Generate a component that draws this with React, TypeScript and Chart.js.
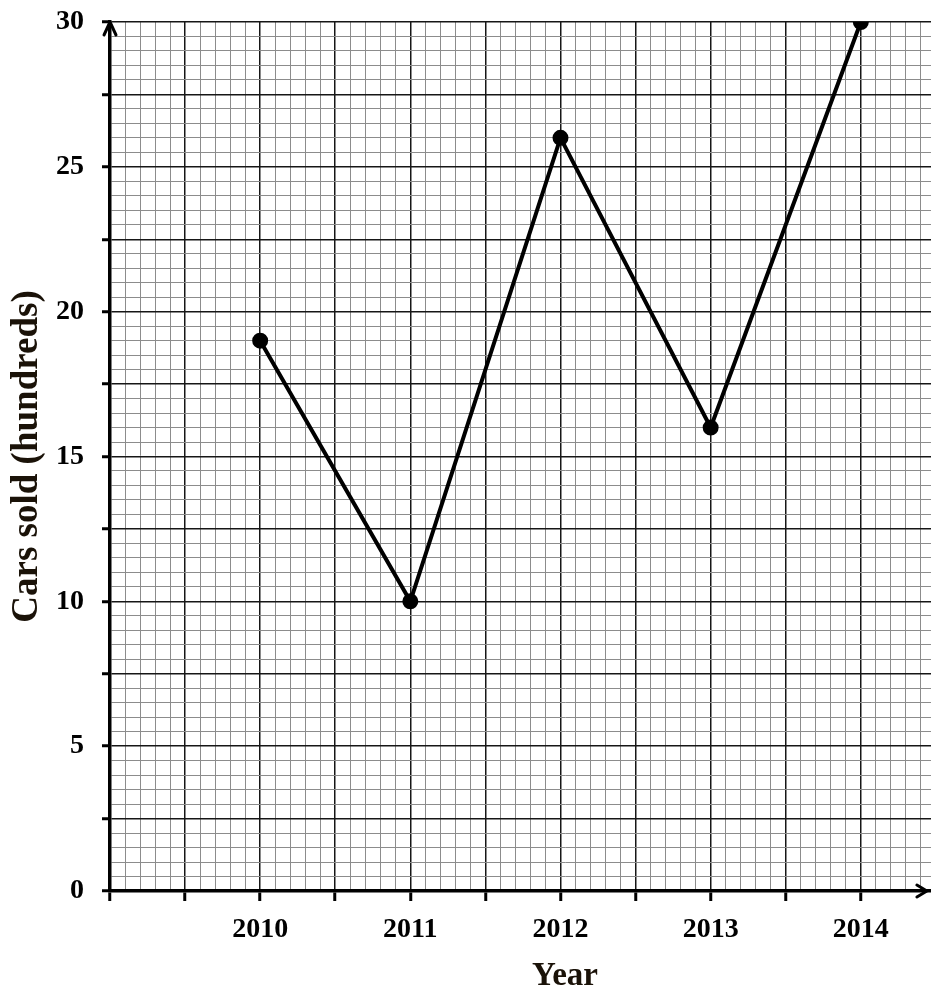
import React, { useEffect, useRef } from "react";
import { Chart, registerables } from "chart.js";

Chart.register(...registerables);

// ---- data ----
const years = [2010, 2011, 2012, 2013, 2014];
const carsSold = [19, 10, 26, 16, 30];
const yTickLabels = [0, 5, 10, 15, 20, 25, 30];
const xTickLabels = [2010, 2011, 2012, 2013, 2014];

const X_MIN = 2009;
const X_MAX = 2015.06;
const X_ARROW = 2014.44;
const Y_MIN = 0;
const Y_MAX = 30;

const FAMILY = "'Liberation Serif', 'Times New Roman', serif";
const TITLE_COLOR = "#1a1208";

const isMult = (v: number, m: number) => Math.abs(v / m - Math.round(v / m)) < 1e-6;

export default function App() {
  const ref = useRef<HTMLCanvasElement | null>(null);

  useEffect(() => {
    document.body.style.margin = "0";
    const canvas = ref.current;
    if (!canvas) return;

    const arrowPlugin = {
      id: "axisArrows",
      afterDraw(chart: any) {
        const { ctx } = chart;
        const x = chart.scales.x;
        const y = chart.scales.y;
        const ox = x.getPixelForValue(X_MIN);
        const oy = y.getPixelForValue(Y_MIN);
        const ty = y.getPixelForValue(Y_MAX);
        const rx = x.getPixelForValue(X_ARROW);
        ctx.save();
        ctx.strokeStyle = "#000";
        ctx.lineWidth = 3;
        ctx.lineCap = "round";
        ctx.lineJoin = "round";
        // up arrow
        ctx.beginPath();
        ctx.moveTo(ox - 6, ty + 13);
        ctx.lineTo(ox, ty);
        ctx.lineTo(ox + 6, ty + 13);
        ctx.stroke();
        // right arrow
        ctx.beginPath();
        ctx.moveTo(rx - 10, oy - 6);
        ctx.lineTo(rx, oy);
        ctx.lineTo(rx - 10, oy + 6);
        ctx.stroke();
        ctx.restore();
      },
    };

    const chart = new Chart(canvas, {
      type: "line",
      data: {
        datasets: [
          {
            data: years.map((yr, i) => ({ x: yr, y: carsSold[i] })),
            borderColor: "#000",
            backgroundColor: "#000",
            borderWidth: 4,
            pointRadius: 6,
            pointBackgroundColor: "#000",
            pointBorderColor: "#000",
            tension: 0,
          },
        ],
      },
      options: {
        responsive: false,
        animation: false,
        devicePixelRatio: 1,
        layout: { padding: { top: 22, left: 0, right: 0, bottom: 0 } },
        plugins: { legend: { display: false }, tooltip: { enabled: false } },
        scales: {
          x: {
            type: "linear",
            min: X_MIN,
            max: X_MAX,
            afterFit: (s: any) => {
              s.height = 102;
              s.paddingLeft = 0;
              s.paddingRight = 0;
            },
            ticks: {
              stepSize: 0.1,
              autoSkip: false,
              maxRotation: 0,
              minRotation: 0,
              padding: 12,
              color: "#000",
              font: { family: FAMILY, size: 28, weight: "bold" },
              callback: (v: any) => {
                const n = Number(v);
                const r = Math.round(n);
                return isMult(n, 1) && xTickLabels.includes(r) ? String(r) : "";
              },
            },
            grid: {
              color: (c: any) => (isMult(c.tick.value, 0.5) ? "#161616" : "#8c8c8c"),
              lineWidth: (c: any) => (isMult(c.tick.value, 0.5) ? 1.5 : 1),
              tickColor: (c: any) => (isMult(c.tick.value, 0.5) ? "#000" : "rgba(0,0,0,0)"),
              tickWidth: 3,
              tickLength: 10,
            },
            border: { display: true, color: "#000", width: 3.5 },
            title: {
              display: true,
              text: "Year",
              color: TITLE_COLOR,
              font: { family: FAMILY, size: 33, weight: "bold", lineHeight: 1 },
              padding: { top: 0, bottom: 0 },
            },
          },
          y: {
            type: "linear",
            min: Y_MIN,
            max: Y_MAX,
            afterFit: (s: any) => {
              s.width = 110;
              s.paddingTop = 0;
              s.paddingBottom = 0;
            },
            ticks: {
              stepSize: 0.5,
              autoSkip: false,
              padding: 18,
              color: "#000",
              font: { family: FAMILY, size: 28, weight: "bold" },
              callback: (v: any) => {
                const n = Number(v);
                const r = Math.round(n);
                return isMult(n, 5) && yTickLabels.includes(r) ? String(r) : "";
              },
            },
            grid: {
              color: (c: any) => (isMult(c.tick.value, 2.5) ? "#161616" : "#8c8c8c"),
              lineWidth: (c: any) => (isMult(c.tick.value, 2.5) ? 1.5 : 1),
              tickColor: (c: any) => (isMult(c.tick.value, 2.5) ? "#000" : "rgba(0,0,0,0)"),
              tickWidth: 3,
              tickLength: 8,
            },
            border: { display: true, color: "#000", width: 3.5 },
            title: {
              display: true,
              text: "Cars sold (hundreds)",
              color: TITLE_COLOR,
              font: { family: FAMILY, size: 37, weight: "bold", lineHeight: 1.2 },
              padding: { top: 5, bottom: 0 },
            },
          },
        },
      },
      plugins: [arrowPlugin],
    } as any);

    return () => chart.destroy();
  }, []);

  return (
    <div style={{ width: 931, height: 993, overflow: "hidden", position: "relative" }}>
      <canvas ref={ref} width={1030} height={993} style={{ display: "block" }} />
    </div>
  );
}
